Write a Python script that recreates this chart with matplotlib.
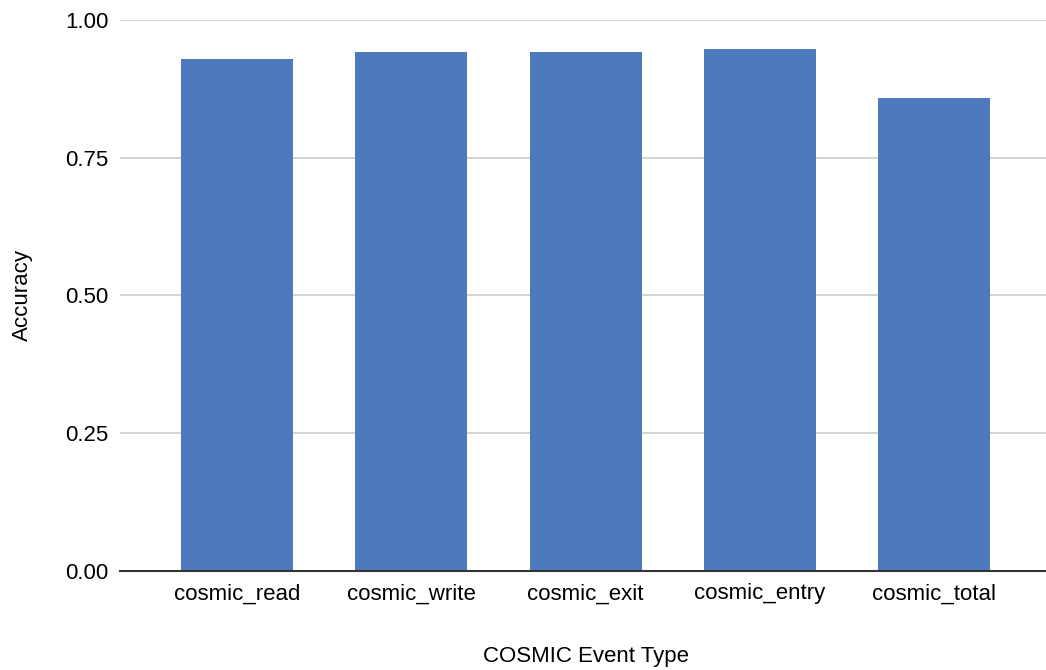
import matplotlib
matplotlib.use("Agg")
import matplotlib.pyplot as plt

# values
event_types = ["cosmic_read", "cosmic_write", "cosmic_exit", "cosmic_entry", "cosmic_total"]
accuracy = [0.930, 0.941, 0.941, 0.948, 0.858]
y_ticks = [0.0, 0.25, 0.50, 0.75, 1.00]

plt.rcParams["font.family"] = ["Liberation Sans", "DejaVu Sans"]

fig = plt.figure(figsize=(10.46, 6.70), dpi=100)
ax = fig.add_axes([0.115, 0.1478, 0.8896, 0.8224])

x = range(len(event_types))
ax.bar(x, accuracy, width=0.643, color="#4e79bd", zorder=3)

ax.set_xlim(-0.67, len(event_types) - 0.33)
ax.set_ylim(0, 1.0)
ax.set_yticks(y_ticks)
ax.set_yticklabels([f"{t:.2f}" for t in y_ticks], fontsize=16)
ax.set_xticks(list(x))
ax.set_xticklabels(event_types, fontsize=16)

ax.grid(axis="y", color="#cccccc", linewidth=1.2, zorder=0)
for side in ["top", "right", "left"]:
    ax.spines[side].set_visible(False)
ax.spines["bottom"].set_color("#333333")
ax.spines["bottom"].set_linewidth(1.5)
ax.spines["bottom"].set_zorder(4)
ax.tick_params(axis="y", length=0, pad=8.5)
ax.tick_params(axis="x", length=0, pad=9)

ax.set_xlabel("COSMIC Event Type", fontsize=16, labelpad=30)
ax.set_ylabel("Accuracy", fontsize=16, labelpad=23)

fig.savefig("out.png", dpi=100)
